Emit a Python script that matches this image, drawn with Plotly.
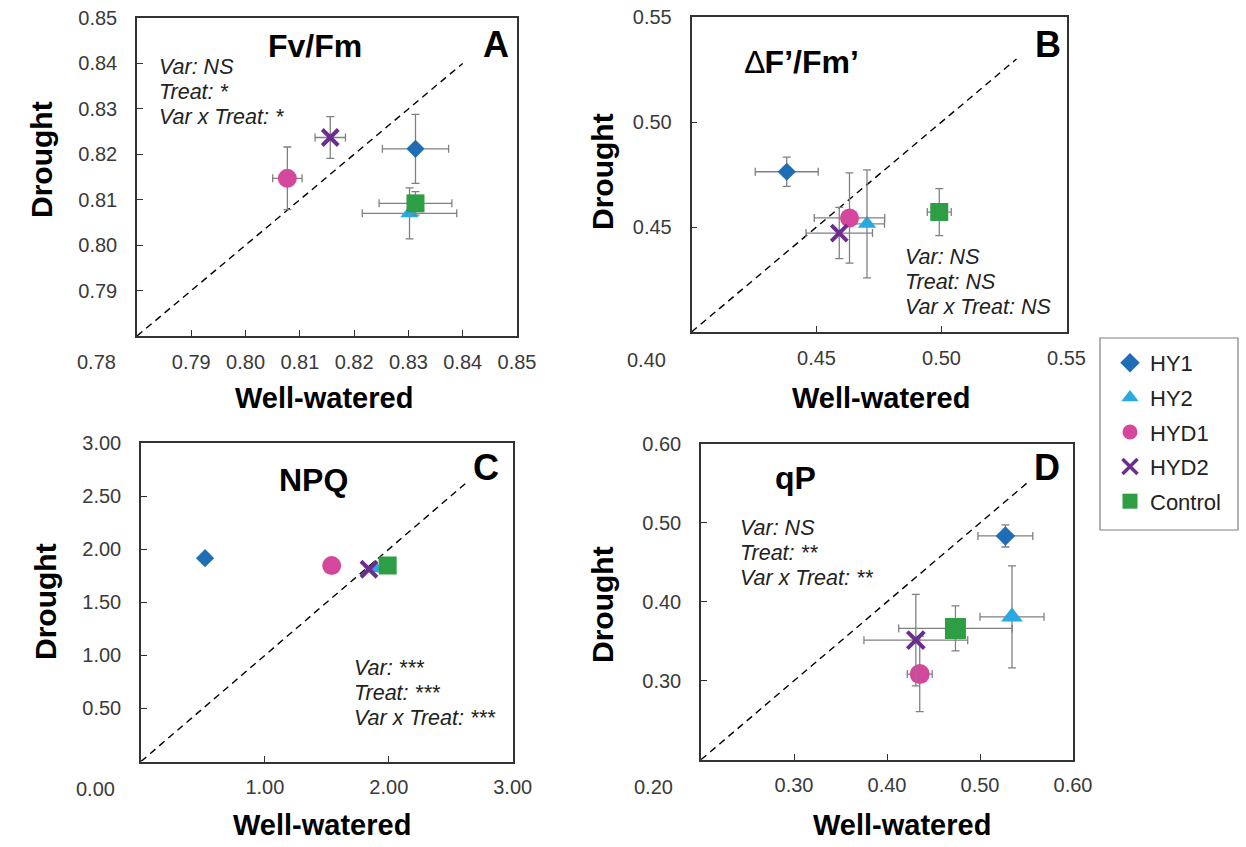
import plotly.graph_objects as go

W, H = 1246, 847

# ---------------- data ----------------
varieties = ["HY1", "HY2", "HYD1", "HYD2", "Control"]

# Panel A: Fv/Fm
fvfm_ww = [0.8313, 0.8302, 0.8077, 0.8156, 0.8313]
fvfm_dr = [0.8212, 0.8070, 0.8147, 0.8237, 0.8092]
fvfm_ww_err = [0.0061, 0.0087, 0.0027, 0.0028, 0.0067]
fvfm_dr_err = [0.0076, 0.0056, 0.0069, 0.0046, 0.0026]

# Panel B: dF'/Fm'
phi_ww = [0.4381, 0.4702, 0.4632, 0.4591, 0.4991]
phi_dr = [0.4763, 0.4515, 0.4543, 0.4471, 0.4571]
phi_ww_err = [0.0126, 0.0070, 0.0141, 0.0133, 0.0048]
phi_dr_err = [0.0070, 0.0257, 0.0215, 0.0122, 0.0112]

# Panel C: NPQ
npq_ww = [0.517, 1.889, 1.539, 1.840, 1.991]
npq_dr = [1.915, 1.820, 1.845, 1.811, 1.845]
npq_ww_err = [0.030, 0.020, 0.020, 0.020, 0.020]
npq_dr_err = [0.040, 0.020, 0.020, 0.020, 0.020]

# Panel D: qP
qp_ww = [0.5273, 0.5344, 0.4352, 0.4310, 0.4736]
qp_dr = [0.4835, 0.3810, 0.3085, 0.3515, 0.3663]
qp_ww_err = [0.0295, 0.0344, 0.0134, 0.0558, 0.0610]
qp_dr_err = [0.0140, 0.0646, 0.0477, 0.0580, 0.0285]

# axis ranges, ticks, 1:1 line ends
range_A = [0.78, 0.85]
range_B = [0.40, 0.55]
range_C = [0.0, 3.0]
range_D = [0.20, 0.60]
ticks_A = [0.79, 0.80, 0.81, 0.82, 0.83, 0.84, 0.85]
ticks_B = [0.45, 0.50, 0.55]
ticks_C = [1.0, 2.0, 3.0]
ticks_Cy = [0.5, 1.0, 1.5, 2.0, 2.5, 3.0]
ticks_D = [0.30, 0.40, 0.50, 0.60]
diag_end = [0.840, 0.530, 2.63, 0.553]

stats_A = ["Var: NS", "Treat: *", "Var x Treat: *"]
stats_B = ["Var: NS", "Treat: NS", "Var x Treat: NS"]
stats_C = ["Var: ***", "Treat: ***", "Var x Treat: ***"]
stats_D = ["Var: NS", "Treat: **", "Var x Treat: **"]

titles = ["Fv/Fm", "<span style='font-weight:normal'>\u2206</span>F\u2019/Fm\u2019", "NPQ", "qP"]
letters = ["A", "B", "C", "D"]

# ---------------- styles ----------------
FONT = "Arial, Liberation Sans, sans-serif"
colors = ["#1F6DB4", "#2AA8E0", "#D5479C", "#6B2D90", "#2E9E45"]
symbols = ["diamond", "triangle-up", "circle", "x-thin", "square"]
sizes_std = [14, 16, 19, 16, 18]
sizes_D = [15, 19, 20, 17, 21]
ERR = "#808080"

def px(x):
    return x / W

def py(y):
    return 1 - y / H

panels = [
    dict(ww=fvfm_ww, dr=fvfm_dr, wwe=fvfm_ww_err, dre=fvfm_dr_err, rng=range_A,
         xt=ticks_A, yt=ticks_A, fmt="{:.2f}",
         xd=[137, 517], yd=[18, 336], sizes=sizes_std),
    dict(ww=phi_ww, dr=phi_dr, wwe=phi_ww_err, dre=phi_dr_err, rng=range_B,
         xt=ticks_B, yt=ticks_B, fmt="{:.2f}",
         xd=[691.5, 1066.5], yd=[17, 332], sizes=sizes_std),
    dict(ww=npq_ww, dr=npq_dr, wwe=npq_ww_err, dre=npq_dr_err, rng=range_C,
         xt=ticks_C, yt=ticks_Cy, fmt="{:.2f}",
         xd=[141, 512.7], yd=[443, 761.5], sizes=sizes_std),
    dict(ww=qp_ww, dr=qp_dr, wwe=qp_ww_err, dre=qp_dr_err, rng=range_D,
         xt=ticks_D, yt=ticks_D, fmt="{:.2f}",
         xd=[701, 1073], yd=[444, 759.7], sizes=sizes_D),
]

fig = go.Figure()
layout = {}
annotations = []

for i, p in enumerate(panels):
    n = i + 1
    xa = "x" if n == 1 else f"x{n}"
    ya = "y" if n == 1 else f"y{n}"
    # 1:1 line
    fig.add_trace(go.Scatter(
        x=[p["rng"][0], diag_end[i]], y=[p["rng"][0], diag_end[i]],
        mode="lines", line=dict(color="black", width=1.4, dash="7px,5px"),
        xaxis=xa, yaxis=ya, showlegend=False, hoverinfo="skip"))
    for k, v in enumerate(varieties):
        mk = dict(symbol=symbols[k], size=p["sizes"][k], color=colors[k])
        if symbols[k] == "x-thin":
            mk["line"] = dict(color=colors[k], width=4)
        else:
            mk["line"] = dict(width=0)
        fig.add_trace(go.Scatter(
            x=[p["ww"][k]], y=[p["dr"][k]], mode="markers", name=v,
            marker=mk,
            error_x=dict(type="data", array=[p["wwe"][k]], color=ERR, thickness=1.3, width=4),
            error_y=dict(type="data", array=[p["dre"][k]], color=ERR, thickness=1.3, width=4),
            xaxis=xa, yaxis=ya, showlegend=False))
    axcommon = dict(range=p["rng"], showgrid=False, zeroline=False, showline=True,
                    mirror=True, linecolor="#333333", linewidth=1.5, automargin=False,
                    ticks="inside", ticklen=6, tickwidth=1.2, tickcolor="#333333",
                    tickfont=dict(family=FONT, size=20, color="#3a3a3a"))
    layout["xaxis" if n == 1 else f"xaxis{n}"] = dict(
        axcommon, domain=[px(p["xd"][0]), px(p["xd"][1])], anchor=ya,
        tickvals=p["xt"], ticktext=[p["fmt"].format(t) for t in p["xt"]],
        ticklabelstandoff=7)
    layout["yaxis" if n == 1 else f"yaxis{n}"] = dict(
        axcommon, domain=[py(p["yd"][1]), py(p["yd"][0])], anchor=xa,
        tickvals=p["yt"], ticktext=[p["fmt"].format(t) for t in p["yt"]],
        ticklabelstandoff=14)

# legend dummy traces
for k, v in enumerate(varieties):
    mk = dict(symbol=symbols[k], size=15, color=colors[k])
    if symbols[k] == "x-thin":
        mk["line"] = dict(color=colors[k], width=3.5)
    fig.add_trace(go.Scatter(x=[None], y=[None], mode="markers", name=v, marker=mk,
                             legendgroup=v, showlegend=True))

# corner labels (axis minimum)
corner = [("0.78", 118, 362), ("0.40", 668, 360), ("0.00", 117, 789), ("0.20", 675, 787)]
for t, x, y in corner:
    annotations.append(dict(text=t, x=px(x), y=py(y), xref="paper", yref="paper",
                            xanchor="right", yanchor="middle", showarrow=False,
                            font=dict(family=FONT, size=20, color="#3a3a3a")))

# titles and letters
title_pos = [(315, 46), (802, 62), (313, 480), (795, 478)]
letter_pos = [(496, 44), (1048, 44), (486, 467), (1047, 468)]
for i in range(4):
    annotations.append(dict(text=titles[i], x=px(title_pos[i][0]), y=py(title_pos[i][1]),
                            xref="paper", yref="paper", showarrow=False,
                            xanchor="center", yanchor="middle",
                            font=dict(family=FONT, size=32, color="black", weight="bold")))
    annotations.append(dict(text=letters[i], x=px(letter_pos[i][0]), y=py(letter_pos[i][1]),
                            xref="paper", yref="paper", showarrow=False,
                            xanchor="center", yanchor="middle",
                            font=dict(family=FONT, size=36, color="black", weight="bold")))

# statistics text
stats = [(stats_A, 157, [67, 92, 117]), (stats_B, 903, [257, 282, 307]),
         (stats_C, 352, [668, 693, 718]), (stats_D, 738, [528, 553, 578])]
for lines, x, ys in stats:
    for t, y in zip(lines, ys):
        annotations.append(dict(text=t, x=px(x), y=py(y), xref="paper", yref="paper",
                                showarrow=False, xanchor="left", yanchor="middle",
                                font=dict(family=FONT, size=21.5, color="#222222", style="italic")))

# axis titles
xt_pos = [(324, 398), (881, 398), (322, 825), (902, 825)]
yt_pos = [(42, 160), (602, 172), (45, 602), (602, 605)]
for (x, y) in xt_pos:
    annotations.append(dict(text="Well-watered", x=px(x), y=py(y), xref="paper", yref="paper",
                            showarrow=False, xanchor="center", yanchor="middle",
                            font=dict(family=FONT, size=29, color="black", weight="bold")))
for (x, y) in yt_pos:
    annotations.append(dict(text="Drought", x=px(x), y=py(y), xref="paper", yref="paper",
                            showarrow=False, xanchor="center", yanchor="middle", textangle=-90,
                            font=dict(family=FONT, size=30, color="black", weight="bold")))

fig.update_layout(
    **layout,
    annotations=annotations,
    width=W, height=H,
    margin=dict(l=0, r=0, t=0, b=0, autoexpand=False),
    paper_bgcolor="white", plot_bgcolor="white",
    shapes=[dict(type="rect", xref="paper", yref="paper",
                 x0=px(1100), x1=px(1238), y0=py(530), y1=py(338),
                 line=dict(color="#808080", width=1.2), fillcolor="rgba(0,0,0,0)")],
    legend=dict(x=px(1110), y=py(342), xanchor="left", yanchor="top",
                bgcolor="rgba(0,0,0,0)", borderwidth=0,
                font=dict(family=FONT, size=22, color="#222222"),
                tracegroupgap=3, itemwidth=30),
    showlegend=True,
)

post = (
    "document.body.style.margin='0px';"
    "document.body.style.overflow='hidden';"
)
fig.write_html("out.html", post_script=post)
